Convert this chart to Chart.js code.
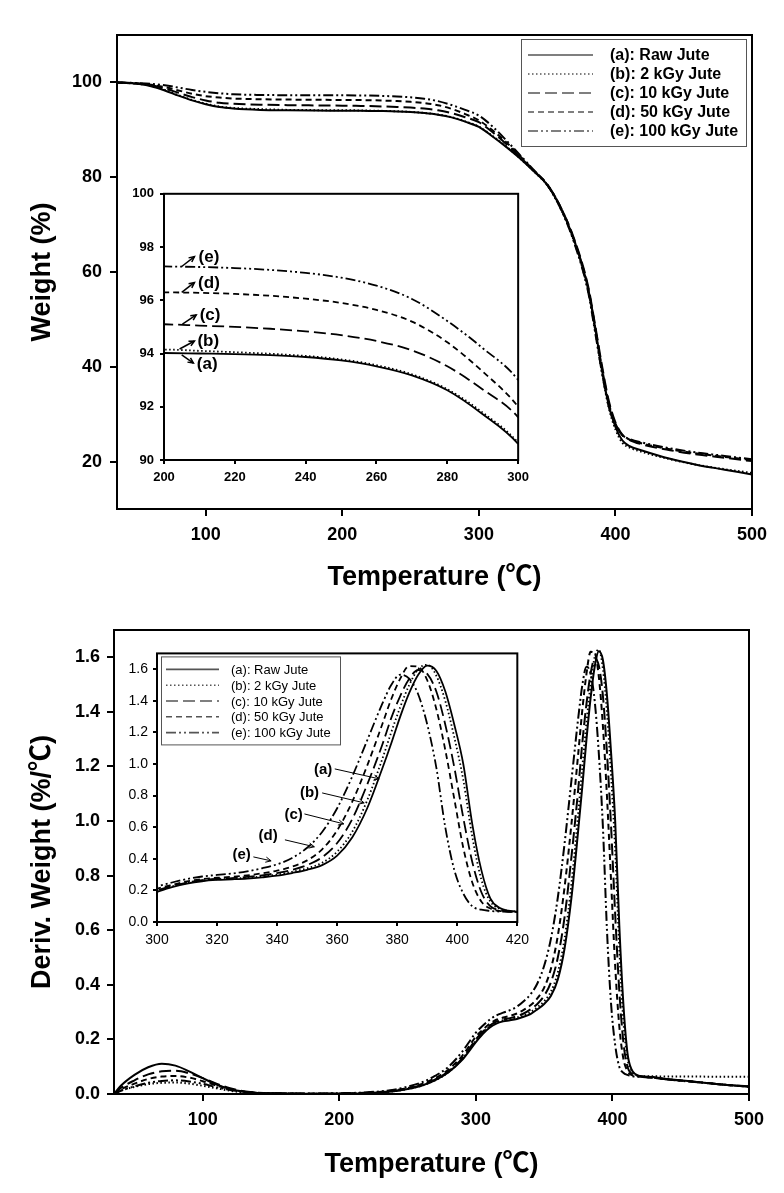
<!DOCTYPE html>
<html>
<head>
<meta charset="utf-8">
<title>TGA / DTG of jute</title>
<script src="https://cdn.jsdelivr.net/npm/chart.js@4.4.1/dist/chart.umd.min.js"></script>
<style>
  body { margin: 0; background: #fff; }
  #wrap { position: relative; width: 784px; height: 1193px; overflow: hidden; }
  #wrap canvas { position: absolute; }
</style>
</head>
<body>
<div id="wrap">
  <canvas id="tgaMain" width="784" height="600" style="left:0;top:0"></canvas>
  <canvas id="tgaInset" width="415" height="310" style="left:120px;top:180px"></canvas>
  <canvas id="dtgMain" width="784" height="593" style="left:0;top:600px"></canvas>
  <canvas id="dtgInset" width="425" height="320" style="left:110px;top:640px"></canvas>
</div>
<script>
// === DATA ===
const seriesNames = ['(a): Raw Jute', '(b): 2 kGy Jute', '(c): 10 kGy Jute', '(d): 50 kGy Jute', '(e): 100 kGy Jute'];

// --- TGA: weight (%) vs temperature ---
const tgaT = [35, 50, 60, 70, 80, 90, 100, 110, 120, 140, 160, 180, 200, 210, 220, 230, 240, 250, 260, 270,
              280, 290, 300, 310, 320, 330, 340, 350, 360, 370, 380, 385, 390, 395, 400, 405, 410, 420, 440, 460, 480, 500];
const tgaA = [100, 99.7, 99.2, 98.3, 97.2, 96.2, 95.4, 94.8, 94.5, 94.2, 94.1, 94.05, 94.02, 94.0, 93.98, 93.94, 93.87, 93.74, 93.52, 93.18,
              92.62, 91.72, 90.6, 88.6, 86.4, 84.0, 81.3, 78.4, 73.5, 66.5, 56.5, 48.5, 39.5, 32.0, 27.3, 24.5, 23.3, 22.3, 20.6, 19.3, 18.3, 17.3];
const tgaB = [100, 99.7, 99.3, 98.4, 97.3, 96.3, 95.5, 94.9, 94.6, 94.35, 94.2, 94.15, 94.15, 94.1, 94.05, 93.99, 93.91, 93.78, 93.56, 93.22,
              92.66, 91.78, 90.65, 88.7, 86.5, 84.0, 81.3, 78.3, 73.3, 66.2, 56.0, 48.0, 39.0, 31.5, 26.8, 24.0, 23.0, 22.0, 20.5, 19.3, 18.4, 17.6];
const tgaC = [100, 99.7, 99.4, 98.7, 97.8, 96.9, 96.2, 95.7, 95.5, 95.3, 95.2, 95.15, 95.1, 95.05, 95.0, 94.93, 94.83, 94.69, 94.47, 94.12,
              93.52, 92.65, 91.6, 89.5, 87.0, 84.3, 81.4, 78.5, 73.6, 66.8, 57.0, 49.0, 40.5, 33.0, 28.3, 25.7, 24.6, 23.6, 22.4, 21.5, 20.8, 20.1];
const tgaD = [100, 99.8, 99.5, 99.0, 98.3, 97.6, 97.1, 96.8, 96.6, 96.45, 96.38, 96.33, 96.3, 96.28, 96.24, 96.17, 96.06, 95.9, 95.64, 95.2,
              94.42, 93.32, 92.0, 89.9, 87.4, 84.5, 81.5, 78.5, 73.6, 66.6, 56.6, 48.6, 40.0, 32.5, 28.0, 25.6, 24.7, 23.8, 22.6, 21.7, 21.0, 20.3];
const tgaE = [100, 99.85, 99.7, 99.4, 98.9, 98.4, 98.0, 97.7, 97.5, 97.35, 97.3, 97.28, 97.27, 97.25, 97.21, 97.14, 97.03, 96.85, 96.55, 96.05,
              95.22, 94.2, 93.0, 90.7, 87.8, 84.7, 81.6, 78.4, 73.3, 66.0, 55.8, 47.5, 39.0, 31.8, 27.8, 25.6, 24.8, 24.0, 22.8, 21.9, 21.2, 20.5];

// --- DTG: deriv. weight (%/C) vs temperature ---
const dtgT = [35, 40, 50, 60, 70, 80, 90, 100, 110, 120, 130, 140, 160, 180, 200, 220, 240, 250, 260, 270, 280, 290,
              300, 305, 310, 315, 320, 325, 330, 335, 340, 345, 350, 355, 360, 365, 370, 375, 378, 381, 384, 387,
              390, 393, 396, 399, 402, 405, 408, 411, 414, 417, 420, 430, 440, 460, 480, 500];
const dtgA = [0, 0.03, 0.07, 0.098, 0.111, 0.104, 0.083, 0.058, 0.035, 0.018, 0.008, 0.004, 0.002, 0.001, 0.001, 0.003, 0.01, 0.018, 0.03, 0.05, 0.08, 0.125,
              0.19, 0.22, 0.243, 0.258, 0.266, 0.27, 0.275, 0.283, 0.293, 0.31, 0.33, 0.36, 0.42, 0.535, 0.72, 0.97, 1.13, 1.3, 1.45, 1.565,
              1.622, 1.59, 1.46, 1.25, 1.0, 0.62, 0.33, 0.15, 0.09, 0.072, 0.066, 0.062, 0.055, 0.045, 0.035, 0.027];
const dtgB = [0, 0.012, 0.026, 0.036, 0.041, 0.042, 0.038, 0.03, 0.021, 0.012, 0.006, 0.003, 0.002, 0.001, 0.001, 0.003, 0.01, 0.018, 0.03, 0.05, 0.08, 0.128,
              0.195, 0.225, 0.247, 0.262, 0.27, 0.274, 0.28, 0.288, 0.3, 0.318, 0.34, 0.375, 0.445, 0.57, 0.77, 1.03, 1.2, 1.36, 1.5, 1.6,
              1.628, 1.56, 1.4, 1.17, 0.9, 0.54, 0.27, 0.13, 0.085, 0.07, 0.066, 0.065, 0.064, 0.064, 0.063, 0.063];
const dtgC = [0, 0.022, 0.05, 0.072, 0.083, 0.085, 0.076, 0.058, 0.038, 0.021, 0.01, 0.005, 0.002, 0.001, 0.001, 0.004, 0.011, 0.02, 0.032, 0.053, 0.083, 0.13,
              0.2, 0.228, 0.25, 0.265, 0.273, 0.278, 0.285, 0.295, 0.31, 0.33, 0.36, 0.41, 0.5, 0.65, 0.87, 1.12, 1.29, 1.43, 1.54, 1.595,
              1.57, 1.46, 1.25, 0.98, 0.66, 0.38, 0.19, 0.1, 0.075, 0.068, 0.065, 0.06, 0.054, 0.045, 0.035, 0.028];
const dtgD = [0, 0.017, 0.038, 0.055, 0.064, 0.066, 0.06, 0.047, 0.031, 0.018, 0.009, 0.004, 0.002, 0.001, 0.002, 0.005, 0.013, 0.022, 0.036, 0.058, 0.09, 0.14,
              0.21, 0.235, 0.257, 0.272, 0.28, 0.286, 0.295, 0.308, 0.325, 0.35, 0.39, 0.46, 0.58, 0.76, 0.99, 1.25, 1.41, 1.54, 1.62, 1.615,
              1.53, 1.35, 1.09, 0.78, 0.47, 0.25, 0.13, 0.085, 0.07, 0.066, 0.064, 0.06, 0.054, 0.045, 0.035, 0.027];
const dtgE = [0, 0.012, 0.028, 0.041, 0.048, 0.05, 0.046, 0.037, 0.025, 0.015, 0.008, 0.004, 0.002, 0.002, 0.003, 0.006, 0.016, 0.027, 0.042, 0.066, 0.1, 0.155,
              0.225, 0.25, 0.272, 0.288, 0.298, 0.307, 0.32, 0.34, 0.365, 0.405, 0.47, 0.57, 0.72, 0.92, 1.15, 1.38, 1.5, 1.565, 1.54, 1.44,
              1.25, 0.98, 0.6, 0.33, 0.18, 0.1, 0.078, 0.07, 0.066, 0.064, 0.063, 0.059, 0.053, 0.044, 0.035, 0.027];

// --- tick values / labels ---
const mainXTicks = [100, 200, 300, 400, 500];
const tgaYTicks = [20, 40, 60, 80, 100];
const tgaInsetXTicks = [200, 220, 240, 260, 280, 300];
const tgaInsetYTicks = [90, 92, 94, 96, 98, 100];
const dtgYTicks = [0, 0.2, 0.4, 0.6, 0.8, 1.0, 1.2, 1.4, 1.6];
const dtgYLabels = ['0.0', '0.2', '0.4', '0.6', '0.8', '1.0', '1.2', '1.4', '1.6'];
const dtgInsetXTicks = [300, 320, 340, 360, 380, 400, 420];

// --- callout labels in the insets (data coordinates: label centre, arrow start, arrow tip) ---
const tgaNotes = [
  { text: '(e)', x: 212.7, y: 97.6,  fx: 205.0, fy: 97.27, tx: 208.6, ty: 97.64 },
  { text: '(d)', x: 212.7, y: 96.63, fx: 205.0, fy: 96.3,  tx: 208.6, ty: 96.67 },
  { text: '(c)', x: 213.0, y: 95.43, fx: 205.2, fy: 95.1,  tx: 209.1, ty: 95.45 },
  { text: '(b)', x: 212.5, y: 94.47, fx: 204.4, fy: 94.17, tx: 208.6, ty: 94.47 },
  { text: '(a)', x: 212.2, y: 93.6,  fx: 205.0, fy: 93.95, tx: 208.3, ty: 93.64 }
];
const dtgNotes = [
  { text: '(a)', x: 355.3, y: 0.963, fx: 359.2, fy: 0.969, tx: 374.0, ty: 0.906 },
  { text: '(b)', x: 350.8, y: 0.818, fx: 355.0, fy: 0.817, tx: 369.0, ty: 0.754 },
  { text: '(c)', x: 345.5, y: 0.678, fx: 349.1, fy: 0.684, tx: 362.2, ty: 0.621 },
  { text: '(d)', x: 337.0, y: 0.545, fx: 342.6, fy: 0.52,  tx: 352.4, ty: 0.476 },
  { text: '(e)', x: 328.2, y: 0.425, fx: 332.1, fy: 0.412, tx: 338.0, ty: 0.387 }
];

// line styles for (a)..(e)
const dashes = [[], [1.5, 2.5], [12, 5], [6, 4], [10, 3, 2, 3, 2, 3]];

const FONT = '"Liberation Sans", Arial, "Noto Sans CJK KR", sans-serif';
Chart.defaults.font.family = FONT;
Chart.defaults.color = '#000';
Chart.defaults.animation = false;

function makeDatasets(xs, series, width) {
  return series.map((ys, k) => ({
    label: seriesNames[k],
    data: xs.map((t, i) => ({ x: t, y: ys[i] })),
    borderColor: '#000',
    borderWidth: width,
    borderDash: dashes[k],
    pointRadius: 0,
    fill: false,
    cubicInterpolationMode: 'monotone'
  }));
}

// box around the plotting area
const framePlugin = {
  id: 'frame',
  afterDraw(chart, args, o) {
    const { ctx, chartArea: a } = chart;
    ctx.save();
    ctx.strokeStyle = '#000';
    ctx.lineWidth = o.width || 2;
    ctx.strokeRect(a.left, a.top, a.right - a.left, a.bottom - a.top);
    ctx.restore();
  }
};

// legend box drawn inside the plotting area
const boxLegendPlugin = {
  id: 'boxLegend',
  afterDraw(chart, args, o) {
    if (!o.show) return;
    const { ctx, chartArea: a } = chart;
    const left = o.anchor === 'right' ? a.right - o.off - o.w : a.left + o.off;
    const top = a.top + o.top;
    ctx.save();
    ctx.fillStyle = '#fff';
    ctx.fillRect(left, top, o.w, o.h);
    ctx.strokeStyle = '#555';
    ctx.lineWidth = 1;
    ctx.strokeRect(left + 0.5, top + 0.5, o.w, o.h);
    ctx.font = o.font;
    ctx.fillStyle = '#000';
    ctx.textBaseline = 'middle';
    chart.data.datasets.forEach((ds, k) => {
      const y = top + o.first + k * o.row;
      ctx.beginPath();
      ctx.setLineDash(ds.borderDash);
      ctx.lineWidth = o.lw;
      ctx.moveTo(left + o.lineX, y);
      ctx.lineTo(left + o.lineX + o.lineLen, y);
      ctx.stroke();
      ctx.setLineDash([]);
      ctx.fillText(ds.label, left + o.textX, y + 1);
    });
    ctx.restore();
  }
};

// "(a)".."(e)" callouts with arrows
const notesPlugin = {
  id: 'notes',
  afterDraw(chart, args, o) {
    if (!o.items) return;
    const { ctx, scales: { x, y } } = chart;
    ctx.save();
    ctx.font = o.font;
    ctx.fillStyle = '#000';
    ctx.strokeStyle = '#000';
    ctx.textAlign = 'center';
    ctx.textBaseline = 'middle';
    o.items.forEach(n => {
      ctx.fillText(n.text, x.getPixelForValue(n.x), y.getPixelForValue(n.y));
      const x0 = x.getPixelForValue(n.fx), y0 = y.getPixelForValue(n.fy);
      const x1 = x.getPixelForValue(n.tx), y1 = y.getPixelForValue(n.ty);
      ctx.lineWidth = o.lw;
      ctx.beginPath();
      ctx.moveTo(x0, y0);
      ctx.lineTo(x1, y1);
      ctx.stroke();
      const ang = Math.atan2(y1 - y0, x1 - x0);
      ctx.beginPath();
      ctx.moveTo(x1 - o.head * Math.cos(ang - 0.45), y1 - o.head * Math.sin(ang - 0.45));
      ctx.lineTo(x1, y1);
      ctx.lineTo(x1 - o.head * Math.cos(ang + 0.45), y1 - o.head * Math.sin(ang + 0.45));
      ctx.stroke();
    });
    ctx.restore();
  }
};

function axis(c) {
  return {
    type: 'linear',
    min: c.min,
    max: c.max,
    afterBuildTicks: s => { s.ticks = c.ticks.map(v => ({ value: v })); },
    afterFit: s => { if (c.size != null) { if (s.isHorizontal()) s.height = c.size; else s.width = c.size; } },
    grid: { drawOnChartArea: false, drawTicks: true, tickLength: c.tl, color: '#000', lineWidth: c.tw },
    border: { display: false },
    ticks: {
      font: c.font,
      padding: c.pad,
      autoSkip: false,
      maxRotation: 0,
      callback: (v, i) => (c.labels ? c.labels[i] : String(v))
    },
    title: c.title
      ? { display: true, text: c.title, font: { size: 27, weight: 'bold' }, padding: c.titlePad }
      : { display: false }
  };
}

function makeChart(id, cfg) {
  return new Chart(document.getElementById(id), {
    type: 'line',
    data: { datasets: cfg.datasets },
    options: {
      responsive: false,
      maintainAspectRatio: false,
      events: [],
      layout: { padding: cfg.padding },
      scales: { x: axis(cfg.x), y: axis(cfg.y) },
      plugins: {
        legend: { display: false },
        tooltip: { enabled: false },
        frame: { width: 2 },
        boxLegend: cfg.legend || { show: false },
        notes: cfg.notes || {}
      }
    },
    plugins: [framePlugin, boxLegendPlugin, notesPlugin]
  });
}

const mainTickFont = { size: 18, weight: 'bold' };

// === TOP: TGA ===
makeChart('tgaMain', {
  datasets: makeDatasets(tgaT, [tgaA, tgaB, tgaC, tgaD, tgaE], 2),
  padding: { left: 0, top: 35, right: 32, bottom: 0 },
  x: { min: 35, max: 500, ticks: mainXTicks, tl: 7, tw: 2, font: mainTickFont, pad: 8, size: 91,
       title: 'Temperature (\u2103)', titlePad: { top: 0, bottom: 6 } },
  y: { min: 10, max: 110, ticks: tgaYTicks, tl: 7, tw: 2, font: mainTickFont, pad: 8, size: 117,
       title: 'Weight (%)', titlePad: { top: 26, bottom: 0 } },
  legend: { show: true, anchor: 'right', off: 6, top: 4, w: 225, h: 107, first: 16, row: 19,
            lineX: 7, lineLen: 65, textX: 89, lw: 1.6, font: 'bold 16px ' + FONT }
});

makeChart('tgaInset', {
  datasets: makeDatasets(tgaT, [tgaA, tgaB, tgaC, tgaD, tgaE], 1.8),
  padding: { left: 0, top: 12, right: 12, bottom: 0 },
  x: { min: 200, max: 300, ticks: tgaInsetXTicks, tl: 4, tw: 2, font: { size: 13, weight: 'bold' }, pad: 6, size: 30 },
  y: { min: 90, max: 100, ticks: tgaInsetYTicks, tl: 4, tw: 2, font: { size: 13, weight: 'bold' }, pad: 6, size: 44 },
  notes: { items: tgaNotes, font: 'bold 17px ' + FONT, lw: 1.5, head: 6 }
});

// === BOTTOM: DTG ===
makeChart('dtgMain', {
  datasets: makeDatasets(dtgT, [dtgA, dtgB, dtgC, dtgD, dtgE], 2),
  padding: { left: 0, top: 30, right: 35, bottom: 0 },
  x: { min: 35, max: 500, ticks: mainXTicks, tl: 7, tw: 2, font: mainTickFont, pad: 8, size: 99,
       title: 'Temperature (\u2103)', titlePad: { top: 0, bottom: 12 } },
  y: { min: 0, max: 1.7, ticks: dtgYTicks, labels: dtgYLabels, tl: 7, tw: 2, font: mainTickFont, pad: 7, size: 114,
       title: 'Deriv. Weight (%/\u2103)', titlePad: { top: 26, bottom: 0 } }
});

makeChart('dtgInset', {
  datasets: makeDatasets(dtgT, [dtgA, dtgB, dtgC, dtgD, dtgE], 1.8),
  padding: { left: 0, top: 13, right: 11, bottom: 0 },
  x: { min: 300, max: 420, ticks: dtgInsetXTicks, tl: 4, tw: 2, font: { size: 14 }, pad: 6, size: 38 },
  y: { min: 0, max: 1.7, ticks: dtgYTicks, labels: dtgYLabels, tl: 4, tw: 2, font: { size: 14 }, pad: 5, size: 47 },
  legend: { show: true, anchor: 'left', off: 4, top: 3, w: 179, h: 88, first: 13, row: 15.8,
            lineX: 5, lineLen: 53, textX: 70, lw: 1.6, font: '13px ' + FONT },
  notes: { items: dtgNotes, font: 'bold 15px ' + FONT, lw: 1, head: 6 }
});
</script>
</body>
</html>
